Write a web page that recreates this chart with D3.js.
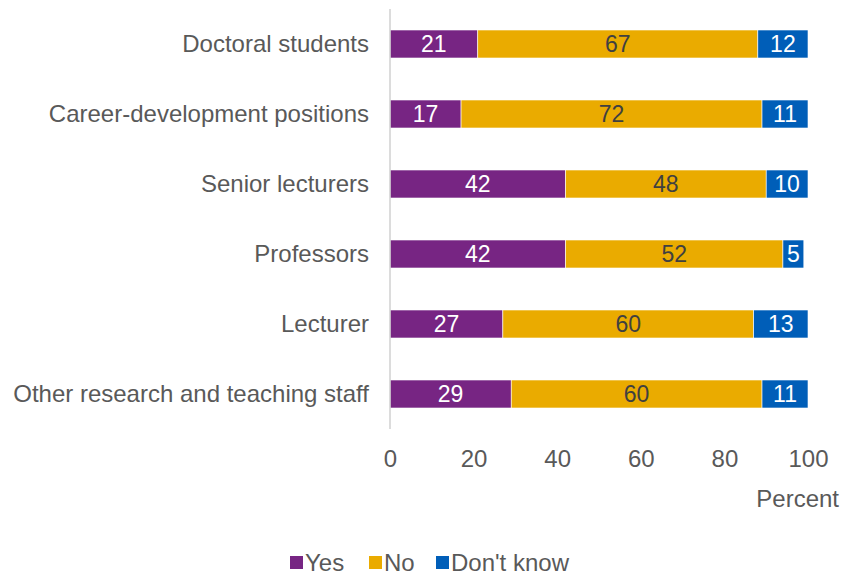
<!DOCTYPE html>
<html>
<head>
<meta charset="utf-8">
<script src="https://cdn.jsdelivr.net/npm/d3@7"></script>
<style>
  html, body { margin: 0; padding: 0; background: #fff; }
  svg { display: block; font-family: "Liberation Sans", Arial, sans-serif; }
</style>
</head>
<body>
<svg id="chart" width="848" height="576"></svg>
<script>
// Survey groups, top to bottom
const categories = [
  "Doctoral students",
  "Career-development positions",
  "Senior lecturers",
  "Professors",
  "Lecturer",
  "Other research and teaching staff"
];
// Percent per answer, in the same order as the groups
const yesValues = [21, 17, 42, 42, 27, 29];
const noValues = [67, 72, 48, 52, 60, 60];
const dontKnowValues = [12, 11, 10, 5, 13, 11];
const seriesNames = ["Yes", "No", "Don't know"];
const xTicks = [0, 20, 40, 60, 80, 100];

const colors = { "Yes": "#772583", "No": "#EAAB00", "Don't know": "#005EB8" };
const labelColors = { "Yes": "#ffffff", "No": "#404040", "Don't know": "#ffffff" };
const textFont = 24;

const rows = categories.map((c, i) => ({
  category: c,
  "Yes": yesValues[i],
  "No": noValues[i],
  "Don't know": dontKnowValues[i]
}));

const svg = d3.select("#chart");
const x = d3.scaleLinear().domain([0, 100]).range([390, 808]);
const y = d3.scaleBand().domain(categories).range([9, 429]).paddingInner(0.6).paddingOuter(0.3);

const stacked = d3.stack().keys(seriesNames)(rows);

// Bars
const layers = svg.append("g").selectAll("g")
  .data(stacked).join("g")
  .attr("fill", d => colors[d.key]);

layers.selectAll("rect")
  .data(d => d.map(v => Object.assign(v, { key: d.key })))
  .join("rect")
  .attr("x", d => x(d[0]))
  .attr("y", d => y(d.data.category))
  .attr("width", d => x(d[1]) - x(d[0]))
  .attr("height", y.bandwidth())
  .attr("stroke", "#ffffff")
  .attr("stroke-width", 0.6);

// Value labels
layers.selectAll("text")
  .data(d => d)
  .join("text")
  .attr("x", d => (x(d[0]) + x(d[1])) / 2)
  .attr("y", d => y(d.data.category) + y.bandwidth() / 2)
  .attr("dy", "0.36em")
  .attr("text-anchor", "middle")
  .attr("font-size", 23)
  .attr("fill", d => labelColors[d.key])
  .text(d => d.data[d.key]);

// Vertical baseline
svg.append("line")
  .attr("x1", x(0)).attr("x2", x(0))
  .attr("y1", 9).attr("y2", 429)
  .attr("stroke", "#d0d0d0").attr("stroke-width", 1.5);

// Category labels
const yAxis = d3.axisLeft(y).tickSize(0).tickPadding(21);
const yg = svg.append("g").attr("transform", `translate(${x(0)},0)`).call(yAxis);
yg.select(".domain").remove();
yg.selectAll("text").attr("font-size", textFont).attr("fill", "#595959")
  .attr("font-family", "'Liberation Sans', Arial, sans-serif");

// X tick labels
const xAxis = d3.axisBottom(x).tickValues(xTicks).tickSize(0).tickPadding(0);
const xg = svg.append("g").attr("transform", "translate(0,450)").call(xAxis);
xg.select(".domain").remove();
xg.selectAll("text").attr("font-size", textFont).attr("fill", "#595959")
  .attr("font-family", "'Liberation Sans', Arial, sans-serif");

// Axis title
svg.append("text")
  .attr("x", 839).attr("y", 507)
  .attr("text-anchor", "end")
  .attr("font-size", textFont).attr("fill", "#595959")
  .text("Percent");

// Legend
const legendX = [290, 369, 436];
const legend = svg.append("g").selectAll("g")
  .data(seriesNames).join("g")
  .attr("transform", (d, i) => `translate(${legendX[i]},556)`);
legend.append("rect")
  .attr("width", 13).attr("height", 13)
  .attr("fill", d => colors[d]);
legend.append("text")
  .attr("x", 15).attr("y", 6).attr("dy", "0.36em")
  .attr("font-size", textFont).attr("fill", "#595959")
  .text(d => d);
</script>
</body>
</html>
